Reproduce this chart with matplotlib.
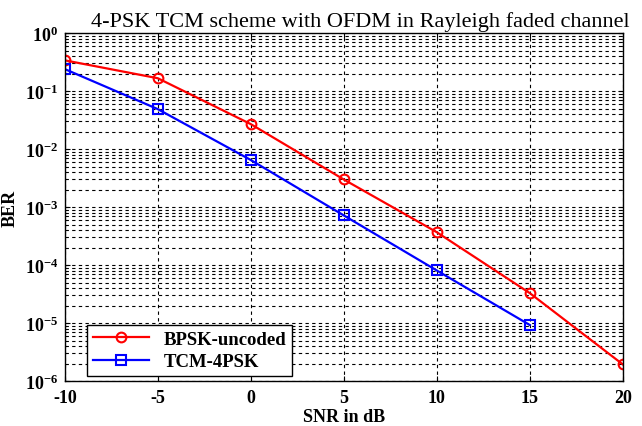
import matplotlib
matplotlib.use("Agg")
import matplotlib.pyplot as plt
from matplotlib.ticker import LogLocator, NullFormatter

# data
snr_bpsk = [-10, -5, 0, 5, 10, 15, 20]
ber_bpsk = [0.34, 0.167, 0.027, 0.003, 0.00037, 3.3e-5, 1.95e-6]
snr_tcm = [-10, -5, 0, 5, 10, 15]
ber_tcm = [0.24, 0.049, 0.0065, 0.00072, 8.1e-5, 9.3e-6]
xticks = [-10, -5, 0, 5, 10, 15, 20]

plt.rcParams['font.family'] = ['Liberation Serif', 'DejaVu Serif']
plt.rcParams['mathtext.fontset'] = 'custom'
plt.rcParams['mathtext.rm'] = 'Liberation Serif'
plt.rcParams['mathtext.bf'] = 'Liberation Serif:bold'

fig = plt.figure(figsize=(6.42, 4.27), dpi=100)
ax = fig.add_axes([0.101, 0.105, 0.869, 0.815])

ax.semilogy(snr_bpsk, ber_bpsk, '-o', color='red', lw=1.6, ms=7,
            mfc='none', mew=1.5, label='BPSK-uncoded')
ax.semilogy(snr_tcm, ber_tcm, '-s', color='blue', lw=1.6, ms=7,
            mfc='none', mew=1.5, label='TCM-4PSK')

ax.set_xlim(-10, 20)
ax.set_ylim(1e-6, 1e0)
ax.set_xticks(xticks)
ax.set_xticklabels([str(t) for t in xticks], fontweight='bold', fontsize=13)
ax.yaxis.set_minor_locator(LogLocator(base=10, subs=range(2, 10), numticks=100))
ax.yaxis.set_minor_formatter(NullFormatter())
ax.set_yticks([10.0 ** k for k in range(-6, 1)])
ax.set_yticklabels([r'$\mathbf{10^{%d}}$' % k for k in range(-6, 1)], fontsize=13)

ax.grid(True, which='major', color='black', ls=(0, (3, 3)), lw=0.8)
ax.grid(True, which='minor', axis='y', color='black', ls=(0, (3, 3)), lw=0.8)
ax.tick_params(direction='in', which='both', top=True, right=True)
ax.tick_params(axis='x', pad=6)
ax.tick_params(axis='y', pad=5)
for s in ax.spines.values():
    s.set_linewidth(1.0)

ax.set_xlabel('SNR in dB', fontweight='bold', fontsize=13, labelpad=1)
ax.set_ylabel('BER', fontweight='bold', fontsize=13, labelpad=4)
ax.set_title('4-PSK TCM scheme with OFDM in Rayleigh faded channel',
             fontsize=16, pad=5, x=0.53)

leg = ax.legend(loc='lower left', bbox_to_anchor=(0.04, 0.015),
                prop={'weight': 'bold', 'size': 13.5},
                fancybox=False, edgecolor='black', framealpha=1,
                borderaxespad=0.0, handlelength=3, borderpad=0.3,
                labelspacing=0.3)
leg.get_frame().set_linewidth(1.0)

fig.savefig('out.png', dpi=100)
